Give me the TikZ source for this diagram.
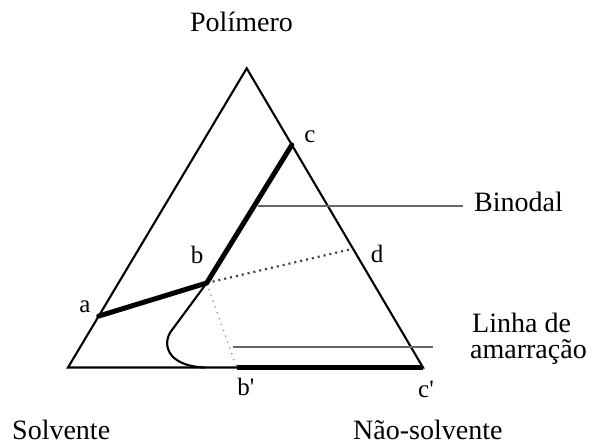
\documentclass[tikz,border=0pt]{standalone}
\usepackage{fontspec}
\setmainfont{Liberation Serif}
\newfontfamily\plainserif[Ligatures=ResetAll]{Liberation Serif}
\usetikzlibrary{calc}
\tikzset{
  side/.style={line width=2.1pt, black},
  thickline/.style={line width=5pt, black, line cap=round},
  pointer/.style={line width=2pt, black!60},
  namelbl/.style={font=\fontsize{28}{30}\selectfont, inner sep=0pt, anchor=base, text depth=0pt},
  ptlabel/.style={font=\fontsize{25}{27}\selectfont, inner sep=0pt, anchor=base},
  dotdark/.style={line width=2.2pt, black!75, dash pattern=on 2pt off 4pt},
  dotlight/.style={line width=1.3pt, black!45, dash pattern=on 1.2pt off 5pt}
}
\begin{document}
\begin{tikzpicture}[x=1pt,y=-1pt]
\useasboundingbox (0,0) rectangle (598,446);
% vertices
\coordinate (L) at (68,367.5);
\coordinate (T) at (246.7,68.3);
\coordinate (R) at (423,367.5);
% points
\coordinate (a) at ($(L)!0.172!(T)$);
\coordinate (b) at (206.7,283);
\coordinate (c) at ($(T)!0.256!(R)$);
\coordinate (d) at ($(T)!0.603!(R)$);
\coordinate (bp) at (236.7,367.5);
\coordinate (cp) at (R);
\coordinate (k) at (172,330);
\coordinate (m) at (205,367.5);
\coordinate (bin1) at (258.3,205.7);
\coordinate (bin2) at (463,205.7);
\coordinate (tie1) at (233.3,346.7);
\coordinate (tie2) at (433.3,346.7);
% triangle
\draw[side, line join=miter] (L) -- (T) -- (R) -- cycle;
% binodal curve lower part
\draw[side] (b) -- (k) .. controls (162,342) and (165,366) .. (m);
% dotted lines
\draw[dotdark] (b) -- (d);
\draw[dotlight] (b) -- (bp);
% thick lines
\draw[thickline, line join=round] (a) -- (b) -- (c);
\draw[thickline, line cap=butt] (bp) -- (cp);
% pointer lines
\draw[pointer] (bin1) -- (bin2);
\draw[pointer] (tie1) -- (tie2);
% labels
\node[namelbl] (pol) at (241.5,32) {Polímero};
\node[namelbl, anchor=base west] (binl) at (474,212) {Binodal};
\node[namelbl, anchor=base west] (lin1) at (472,333) {Linha de};
\node[namelbl, anchor=base west] (lin2) at (470,359) {amarração};
\node[namelbl, anchor=base west] (solv) at (12,440) {Solvente};
\node[namelbl, anchor=base west] (nsolv) at (353,440) {Não-solvente};
\node[ptlabel] (la) at (85,313) {a};
\node[ptlabel] (lb) at (197,264) {b};
\node[ptlabel] (lc) at (310,143) {c};
\node[ptlabel] (ld) at (377,263) {d};
\node[ptlabel] (lbp) at (246,396) {\plainserif b'};
\node[ptlabel] (lcp) at (426,398) {\plainserif c'};
\end{tikzpicture}
\end{document}
